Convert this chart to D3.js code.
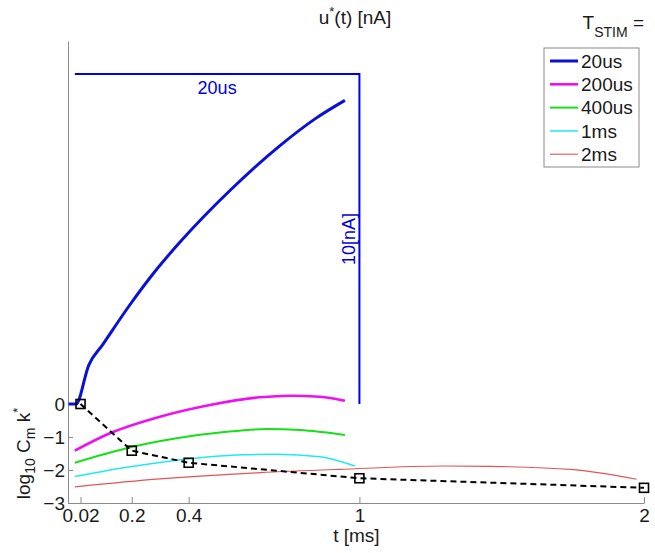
<!DOCTYPE html>
<html>
<head>
<meta charset="utf-8"/>
<style>
  body { margin: 0; background: #fff; }
  svg text { font-family: "Liberation Sans", Arial, Helvetica, sans-serif; fill: #1a1a1a; }
</style>
</head>
<body>
<svg id="chart" width="655" height="553"></svg>
<script src="https://d3js.org/d3.v7.min.js"></script>
<script>
// --- data ---
const stimLabels = ["20us", "200us", "400us", "1ms", "2ms"];

// u*(t) curves, [t in ms, value]
const u20us  = [[-0.022, 0], [0.004, 0], [0.049, 1.18], [0.098, 1.8], [0.193, 3.0], [0.28, 4.0],
                [0.369, 4.9], [0.545, 6.47], [0.721, 7.83], [0.844, 8.64], [0.949, 9.2]];
const u200us = [[0, -1.415], [0.123, -0.888], [0.299, -0.385], [0.475, -0.03], [0.65, 0.203],
                [0.756, 0.252], [0.861, 0.221], [0.949, 0.1]];
const u400us = [[0, -1.78], [0.182, -1.34], [0.357, -1.04], [0.533, -0.84], [0.674, -0.76],
                [0.791, -0.79], [0.949, -0.94]];
const u1ms   = [[0, -2.2], [0.182, -1.92], [0.416, -1.65], [0.592, -1.54], [0.709, -1.52],
                [0.861, -1.6], [0.984, -1.88]];
const u2ms   = [[0, -2.51], [0.299, -2.27], [0.65, -2.08], [0.931, -1.98], [1.3, -1.88],
                [1.459, -1.89], [1.752, -1.99], [1.974, -2.28]];
const curves = [u20us, u200us, u400us, u1ms, u2ms];

// log10 Cm k* at each T_STIM
const markerT = [0.02, 0.2, 0.4, 1, 2];
const markerLogCk = [0, -1.415, -1.78, -2.25, -2.54];

const xTicks = [0.02, 0.2, 0.4, 1, 2];
const xTickLabels = ["0.02", "0.2", "0.4", "1", "2"];
const yTicks = [-3, -2, -1, 0];

// scale bar: 20us wide, 10 nA tall
const barT = [0, 1];
const barU = 10;

// --- styles ---
const colors = ["#0a10d6", "#ee10ee", "#18e018", "#20eaf0", "#e05555"];
const widths = [3, 2.6, 2, 1.5, 1.1];

const svg = d3.select("#chart");

const x = d3.scaleLinear().domain([-0.024, 2]).range([68, 644]);
const y = d3.scaleLinear().domain([-3, 11]).range([503, 41]);

// axes (ticks inside like matlab)
const xAxis = svg.append("g")
  .attr("transform", `translate(0, ${y(-3)})`)
  .call(d3.axisBottom(x).tickValues(xTicks).tickFormat((d, i) => xTickLabels[i])
        .tickSizeInner(-6).tickSizeOuter(0).tickPadding(6));
const yAxis = svg.append("g")
  .attr("transform", `translate(${x.range()[0]}, 0)`)
  .call(d3.axisLeft(y).tickValues(yTicks).tickFormat(d => d < 0 ? "\u2212" + Math.abs(d) : d)
        .tickSizeInner(-5).tickSizeOuter(0).tickPadding(3));
[xAxis, yAxis].forEach(g => {
  g.select(".domain").attr("stroke", "#8a8a8a");
  g.selectAll(".tick line").attr("stroke", "#8a8a8a");
  g.selectAll(".tick text").attr("font-size", 19).attr("fill", "#1a1a1a");
});

// curves
const line = d3.line().x(d => x(d[0])).y(d => y(d[1])).curve(d3.curveMonotoneX);
svg.append("g").selectAll("path")
  .data(curves)
  .join("path")
  .attr("d", line)
  .attr("fill", "none")
  .attr("stroke", (d, i) => colors[i])
  .attr("stroke-width", (d, i) => widths[i]);

// scale bar
const bar = svg.append("g").attr("stroke", "#0000f0").attr("stroke-width", 2).attr("fill", "none");
bar.append("path")
  .attr("d", d3.line()([[x(barT[0]), y(barU)], [x(barT[1]), y(barU)], [x(barT[1]), y(0)]]));
svg.append("text")
  .attr("x", x((barT[0] + barT[1]) / 2)).attr("y", y(barU) + 20)
  .attr("text-anchor", "middle").attr("font-size", 18).style("fill", "#0000e0")
  .text("20us");
svg.append("text")
  .attr("transform", `translate(${x(barT[1]) - 4}, ${y(barU / 2)}) rotate(-90)`)
  .attr("text-anchor", "middle").attr("font-size", 18).style("fill", "#0000e0")
  .text("10[nA]");

// dashed log10 Cm k* line with squares
const pts = markerT.map((t, i) => [t, markerLogCk[i]]);
svg.append("path")
  .attr("d", d3.line().x(d => x(d[0])).y(d => y(d[1]))(pts))
  .attr("fill", "none").attr("stroke", "#000").attr("stroke-width", 2)
  .attr("stroke-dasharray", "6,4");
svg.append("g").selectAll("rect")
  .data(pts)
  .join("rect")
  .attr("x", d => x(d[0]) - 4.5).attr("y", d => y(d[1]) - 4.5)
  .attr("width", 9).attr("height", 9)
  .attr("fill", "none").attr("stroke", "#000").attr("stroke-width", 1.6);

// titles
const title = svg.append("text").attr("x", 355).attr("y", 24)
  .attr("text-anchor", "middle").attr("font-size", 19);
title.append("tspan").text("u");
title.append("tspan").attr("dy", -8).attr("font-size", 13).text("*");
title.append("tspan").attr("dy", 8).text("(t) [nA]");

svg.append("text").attr("x", x(1) - 3).attr("y", 542)
  .attr("text-anchor", "middle").attr("font-size", 19).text("t [ms]");

const ylab = svg.append("text")
  .attr("transform", `translate(30, ${y(-1.5)}) rotate(-90)`)
  .attr("text-anchor", "middle").attr("font-size", 19);
ylab.append("tspan").text("log");
ylab.append("tspan").attr("dy", 5).attr("font-size", 14).text("10");
ylab.append("tspan").attr("dy", -5).text(" C");
ylab.append("tspan").attr("dy", 5).attr("font-size", 14).text("m");
ylab.append("tspan").attr("dy", -5).text(" k");
ylab.append("tspan").attr("dy", -8).attr("font-size", 13).text("*");

// legend
const stim = svg.append("text").attr("x", 644).attr("y", 29)
  .attr("text-anchor", "end").attr("font-size", 19);
stim.append("tspan").text("T");
stim.append("tspan").attr("dy", 8).attr("font-size", 14).text("STIM");
stim.append("tspan").attr("dy", -8).text(" =");

const legend = svg.append("g").attr("transform", "translate(544, 48)");
legend.append("rect").attr("width", 95).attr("height", 119)
  .attr("fill", "#fff").attr("stroke", "#8a8a8a").attr("stroke-width", 1);
const rows = legend.selectAll("g.row")
  .data(stimLabels)
  .join("g").attr("class", "row")
  .attr("transform", (d, i) => `translate(0, ${13 + i * 23.3})`);
rows.append("line").attr("x1", 6).attr("x2", 34)
  .attr("stroke", (d, i) => colors[i]).attr("stroke-width", (d, i) => widths[i]);
rows.append("text").attr("x", 37).attr("dy", "0.35em").attr("font-size", 19).text(d => d);
</script>
</body>
</html>
